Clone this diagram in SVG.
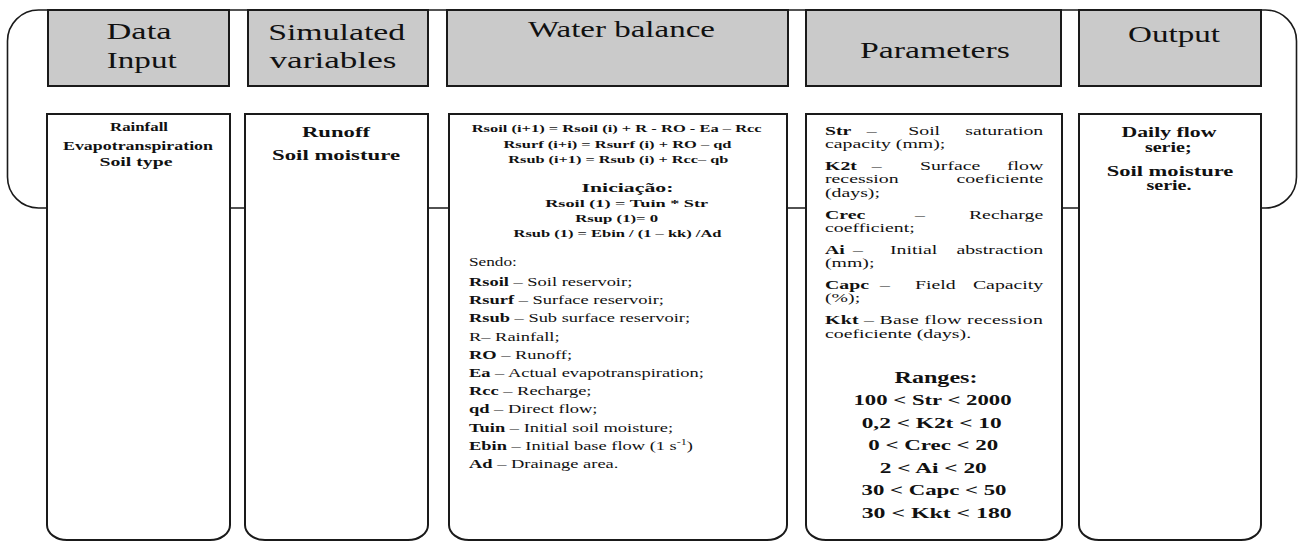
<svg xmlns="http://www.w3.org/2000/svg" width="1301" height="543" viewBox="0 0 1301 543">
<style>
.hdr{fill:#cacaca;stroke:#1a1a1a;stroke-width:2}
.box{fill:#fff;stroke:#1a1a1a;stroke-width:2}
.frame{fill:none;stroke:#1a1a1a;stroke-width:1.6}
text{font-family:'Liberation Serif','Tinos','Times New Roman','DejaVu Serif',serif;fill:#111}
.h{font-size:22.5px;text-anchor:middle}
.c{text-anchor:middle}
.e{text-anchor:end}
.b{font-weight:bold}
</style>
<rect width="1301" height="543" fill="#fff"/>
<g id="connectors">
<rect class="frame" x="7.5" y="10" width="1289" height="198" rx="31" ry="31"/>
</g>
<g id="data-input" font-family="Liberation Serif, serif">
<rect class="hdr" x="48" y="10" width="181" height="76"/>
<text class="h" x="139" y="39" textLength="65" lengthAdjust="spacingAndGlyphs">Data</text>
<text class="h" x="141.7" y="68" textLength="70" lengthAdjust="spacingAndGlyphs">Input</text>
<path class="box" d="M47 114H230V525A20 15 0 0 1 210 540H67A20 15 0 0 1 47 525Z"/>
<g class="b c" font-size="12">
<text x="139" y="131" textLength="58" lengthAdjust="spacingAndGlyphs">Rainfall</text>
<text x="138" y="149.5" textLength="150" lengthAdjust="spacingAndGlyphs">Evapotranspiration</text>
<text x="136" y="166" textLength="73" lengthAdjust="spacingAndGlyphs">Soil type</text>
</g>
</g>
<g id="simulated-variables">
<rect class="hdr" x="248" y="10" width="180" height="76"/>
<text class="h" x="336.7" y="40" textLength="137" lengthAdjust="spacingAndGlyphs">Simulated</text>
<text class="h" x="333" y="68.3" textLength="127" lengthAdjust="spacingAndGlyphs">variables</text>
<path class="box" d="M245 114H428V525A20 15 0 0 1 408 540H265A20 15 0 0 1 245 525Z"/>
<g class="b c" font-size="15">
<text x="336" y="137" textLength="68" lengthAdjust="spacingAndGlyphs">Runoff</text>
<text x="336" y="160" textLength="128" lengthAdjust="spacingAndGlyphs">Soil moisture</text>
</g>
</g>
<g id="water-balance">
<rect class="hdr" x="447" y="10" width="341" height="76"/>
<text class="h" x="621.5" y="36.7" textLength="187" lengthAdjust="spacingAndGlyphs">Water balance</text>
<path class="box" d="M449 114H787V525A20 15 0 0 1 767 540H469A20 15 0 0 1 449 525Z"/>
<g class="b c" font-size="11">
<text x="616.7" y="131.7" textLength="290" lengthAdjust="spacingAndGlyphs">Rsoil (i+1) = Rsoil (i) + R - RO - Ea – Rcc</text>
<text x="617.5" y="148.3" textLength="228" lengthAdjust="spacingAndGlyphs">Rsurf (i+i) = Rsurf (i) + RO – qd</text>
<text x="618.3" y="163.3" textLength="220" lengthAdjust="spacingAndGlyphs">Rsub (i+1) = Rsub (i) + Rcc– qb</text>
<text x="627.5" y="191.7" font-size="11.5" textLength="92" lengthAdjust="spacingAndGlyphs">Iniciação:</text>
<text x="626.7" y="206.7" textLength="163" lengthAdjust="spacingAndGlyphs">Rsoil (1) = Tuin * Str</text>
<text x="616.7" y="221.7" textLength="83" lengthAdjust="spacingAndGlyphs">Rsup (1)= 0</text>
<text x="617.5" y="236.7" textLength="208" lengthAdjust="spacingAndGlyphs">Rsub (1) = Ebin / (1 – kk) /Ad</text>
</g>
<g transform="translate(469 0) scale(1.5 1)" font-size="12.3">
<text x="0" y="266" font-size="11.5">Sendo:</text>
<text x="0" y="286"><tspan class="b">Rsoil</tspan> – Soil reservoir;</text>
<text x="0" y="304.2"><tspan class="b">Rsurf</tspan> – Surface reservoir;</text>
<text x="0" y="322.4"><tspan class="b">Rsub</tspan> – Sub surface reservoir;</text>
<text x="0" y="340.6">R– Rainfall;</text>
<text x="0" y="358.8"><tspan class="b">RO</tspan> – Runoff;</text>
<text x="0" y="377"><tspan class="b">Ea</tspan> – Actual evapotranspiration;</text>
<text x="0" y="395.2"><tspan class="b">Rcc</tspan> – Recharge;</text>
<text x="0" y="413.4"><tspan class="b">qd</tspan> – Direct flow;</text>
<text x="0" y="431.6"><tspan class="b">Tuin</tspan> – Initial soil moisture;</text>
<text x="0" y="449.8"><tspan class="b">Ebin</tspan> – Initial base flow (1 s<tspan font-size="8" dy="-5">-1</tspan><tspan dy="5">)</tspan></text>
<text x="0" y="468"><tspan class="b">Ad</tspan> – Drainage area.</text>
</g>
</g>
<g id="parameters">
<rect class="hdr" x="806" y="10" width="255" height="76"/>
<text class="h" x="935" y="58.3" textLength="150" lengthAdjust="spacingAndGlyphs">Parameters</text>
<path class="box" d="M806 114H1062V525A20 15 0 0 1 1042 540H826A20 15 0 0 1 806 525Z"/>
<g transform="translate(825 0) scale(1.5 1)" font-size="13.2">
<text y="135"><tspan x="0" class="b">Str</tspan><tspan x="27.8">–</tspan><tspan x="55.5">Soil</tspan></text>
<text class="e" x="145.5" y="135">saturation</text>
<text x="0" y="148.3">capacity (mm);</text>
<text y="170.2"><tspan x="0" class="b">K2t</tspan><tspan x="31.1">–</tspan><tspan x="63.3">Surface</tspan></text>
<text class="e" x="145.5" y="170.2">flow</text>
<text x="0" y="183.5">recession</text>
<text class="e" x="145.5" y="183.5">coeficiente</text>
<text x="0" y="196.8">(days);</text>
<text y="218.7"><tspan x="0" class="b">Crec</tspan><tspan x="60">–</tspan></text>
<text class="e" x="145.5" y="218.7">Recharge</text>
<text x="0" y="232">coefficient;</text>
<text y="253.9"><tspan x="0" class="b">Ai</tspan><tspan x="18.7">–</tspan><tspan x="43.3">Initial</tspan></text>
<text class="e" x="145.5" y="253.9">abstraction</text>
<text x="0" y="267.2">(mm);</text>
<text y="289.1"><tspan x="0" class="b">Capc</tspan><tspan x="36.7">–</tspan><tspan x="60">Field</tspan></text>
<text class="e" x="145.5" y="289.1">Capacity</text>
<text x="0" y="302.4">(%);</text>
<text x="0" y="324.3" textLength="145.3" lengthAdjust="spacing"><tspan class="b">Kkt</tspan> – Base flow recession</text>
<text x="0" y="337.6">coeficiente (days).</text>
</g>
<g class="b c">
<text x="936" y="383.3" font-size="16" textLength="83" lengthAdjust="spacingAndGlyphs">Ranges:</text>
<g font-size="15">
<text x="932.5" y="405" textLength="158" lengthAdjust="spacingAndGlyphs">100 &lt; Str &lt; 2000</text>
<text x="931.7" y="427.6" textLength="140" lengthAdjust="spacingAndGlyphs">0,2 &lt; K2t &lt; 10</text>
<text x="933.3" y="450.2" textLength="130" lengthAdjust="spacingAndGlyphs">0 &lt; Crec &lt; 20</text>
<text x="933.3" y="472.8" textLength="107" lengthAdjust="spacingAndGlyphs">2 &lt; Ai &lt; 20</text>
<text x="934" y="495.4" textLength="145" lengthAdjust="spacingAndGlyphs">30 &lt; Capc &lt; 50</text>
<text x="936.7" y="518" textLength="150" lengthAdjust="spacingAndGlyphs">30 &lt; Kkt &lt; 180</text>
</g>
</g>
</g>
<g id="output">
<rect class="hdr" x="1079" y="10" width="182" height="76"/>
<text class="h" x="1174" y="41.7" textLength="92" lengthAdjust="spacingAndGlyphs">Output</text>
<path class="box" d="M1079 114H1261V525A20 15 0 0 1 1241 540H1099A20 15 0 0 1 1079 525Z"/>
<g class="b c" font-size="14">
<text x="1169" y="136.7" textLength="95" lengthAdjust="spacingAndGlyphs">Daily flow</text>
<text x="1168.3" y="151.7" textLength="46.7" lengthAdjust="spacingAndGlyphs">serie;</text>
<text x="1170" y="175.5" textLength="126.6" lengthAdjust="spacingAndGlyphs">Soil moisture</text>
<text x="1169" y="190" textLength="45" lengthAdjust="spacingAndGlyphs">serie.</text>
</g>
</g>
</svg>
